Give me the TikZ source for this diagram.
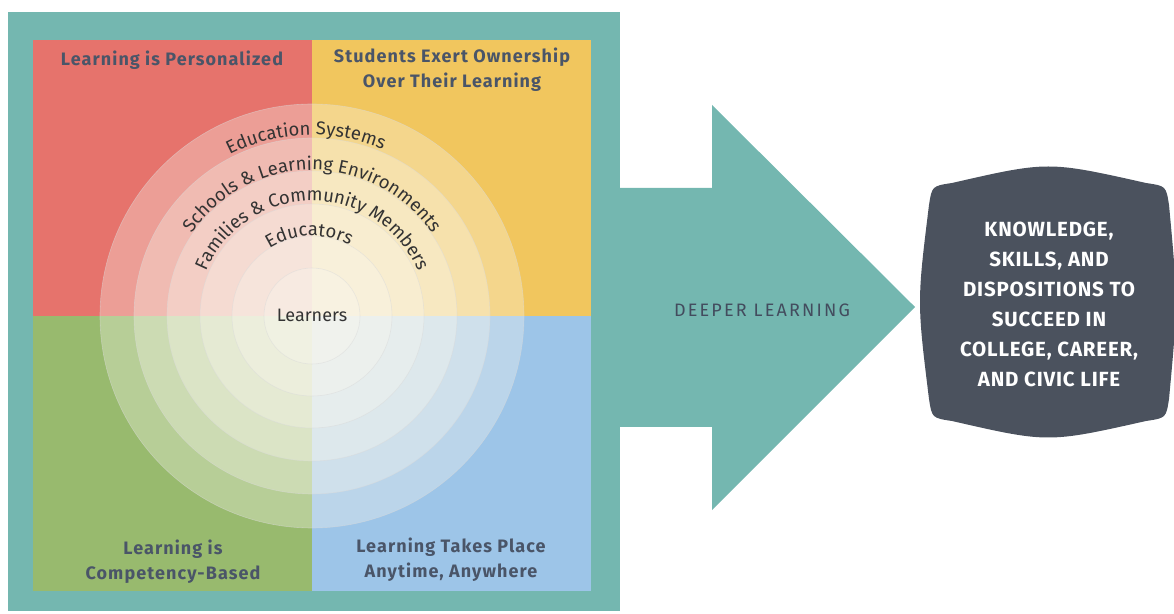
\documentclass[tikz,border=0pt]{standalone}
\usepackage{fontspec}
\setmainfont{Fira Sans}
\usepackage{xcolor}
\usepackage{tikz}
\usetikzlibrary{positioning,calc,decorations.text}
\definecolor{frameteal}{HTML}{74B7B0}
\definecolor{quadred}{HTML}{E6736C}
\definecolor{quadyellow}{HTML}{F1C65E}
\definecolor{quadgreen}{HTML}{98BA6E}
\definecolor{quadblue}{HTML}{9DC5E8}
\definecolor{ringwhite}{HTML}{FBF9F0}
\definecolor{slate}{HTML}{4B525E}
\definecolor{labelgrey}{HTML}{4A5568}
\definecolor{ringink}{HTML}{333333}
\newcommand{\ringfont}{\fontsize{18.5}{22}\selectfont\color{ringink}}

\begin{document}
\begin{tikzpicture}[x=1pt,y=1pt,
    quadlabel/.style={text=labelgrey,font=\fontsize{18}{25}\selectfont\bfseries\addfontfeature{LetterSpace=6},align=center},
    ring/.style={fill=ringwhite,fill opacity=0.32,draw=black!15,draw opacity=0.5,line width=0.6pt},
    ringlabel/.style={decorate,decoration={text along path,text align=center,text={|\ringfont|#1}}}]
    \useasboundingbox (0,0) rectangle (1174,613);
    \fill[frameteal] (8,2) rectangle (620,601);
    \fill[frameteal] (600,425) -- (712,425) -- (712,508) -- (915,306) -- (712,103) -- (712,186) -- (600,186) -- cycle;
    \fill[quadred] (33,297) rectangle (312,573);
    \fill[quadyellow] (312,297) rectangle (591,573);
    \fill[quadgreen] (33,22) rectangle (312,297);
    \fill[quadblue] (312,22) rectangle (591,297);
    \coordinate (hub) at (312,297);
    \foreach \r in {212,178,145,112,80,48}
        \draw[ring] (hub) circle (\r);
    \path[ringlabel={Education Systems}] (hub) ++(172:181) arc[start angle=172,end angle=12,radius=181];
    \path[ringlabel={Schools {\&} Learning Environments}] (hub) ++(170:146) arc[start angle=170,end angle=10,radius=146];
    \path[ringlabel={Families {\&} Community Members}] (hub) ++(170:115) arc[start angle=170,end angle=10,radius=115];
    \path[ringlabel={Educators}] (hub) ++(172:80) arc[start angle=172,end angle=12,radius=80];
    \node[text=ringink,font=\fontsize{18}{20}\selectfont] (learners) at (312,298) {Learners};
    \node[quadlabel] (personal) at (172,553) {Learning is Personalized};
    \node[quadlabel] (ownership) at (452,543) {Students Exert Ownership\\Over Their Learning};
    \node[quadlabel] (competency) at (173,51) {Learning is\\Competency-Based};
    \node[quadlabel] (anytime) at (451,53) {Learning Takes Place\\Anytime, Anywhere};
    \node[text=labelgrey!90!black,font=\fontsize{18}{20}\selectfont\addfontfeature{LetterSpace=12}] (deeper) at (762,303) {DEEPER LEARNING};
    \fill[slate] (952,430) .. controls (1048,452) .. (1146,430)
        .. controls (1166,427) .. (1169,408)
        .. controls (1178,311) .. (1169,214)
        .. controls (1166,195) .. (1146,192)
        .. controls (1048,170) .. (952,192)
        .. controls (932,195) .. (929,214)
        .. controls (917,311) .. (929,408)
        .. controls (932,427) .. cycle;
    \node[text=white,font=\fontsize{20.5}{30}\selectfont\bfseries\addfontfeature{LetterSpace=4},align=center] (outcome) at (1049,309)
        {KNOWLEDGE,\\SKILLS, AND\\DISPOSITIONS TO\\SUCCEED IN\\COLLEGE, CAREER,\\AND CIVIC LIFE};
\end{tikzpicture}
\end{document}
